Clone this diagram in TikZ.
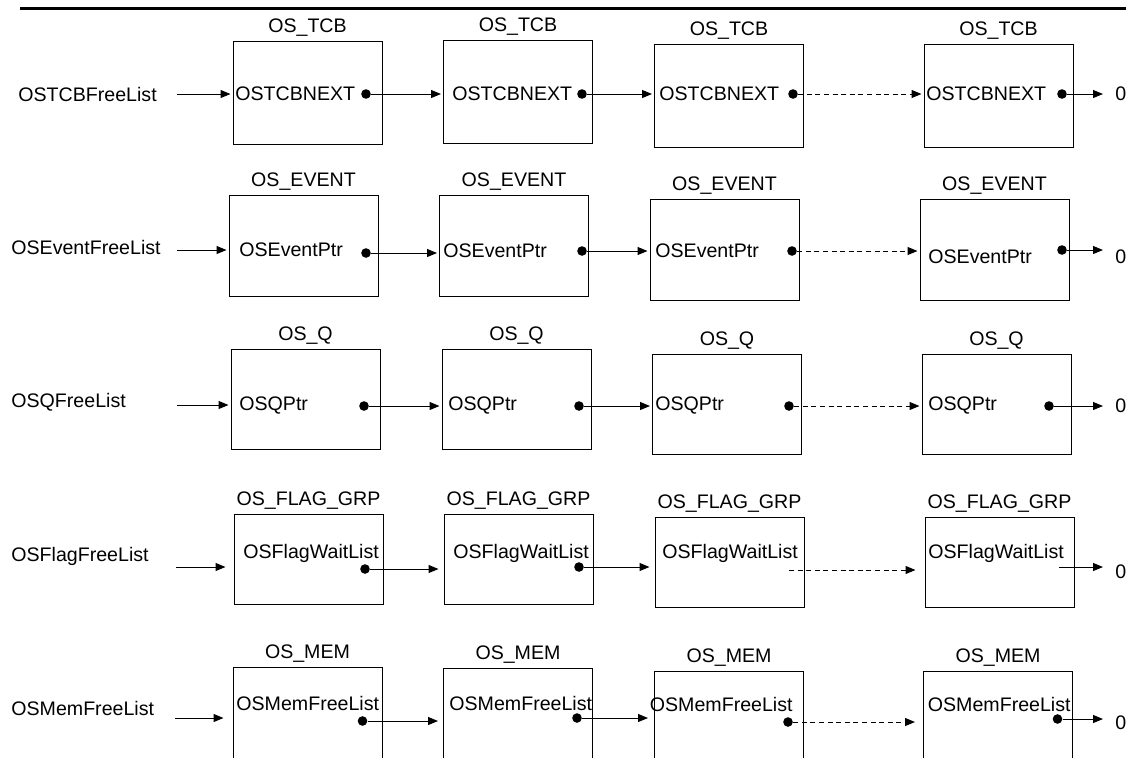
\documentclass[tikz,border=0pt]{standalone}
\usepackage{fontspec}
\setmainfont{Liberation Sans}
\usepackage{tikz}
\usetikzlibrary{positioning}
\usetikzlibrary{arrows.meta}

\begin{document}
\begin{tikzpicture}[x=0.5pt, y=-0.5pt,
        every node/.style={font=\fontsize{9.8}{11.7}\selectfont, inner sep=0pt},
        cell/.style={draw, line width=0.5pt, minimum width=74.5pt},
        dot/.style={circle, fill, minimum size=4.8pt},
        ptr/.style={-{Triangle[length=5pt,width=4pt]}, line width=0.5pt, shorten >=1pt},
        ellip/.style={ptr, dash pattern=on 2.5pt off 1.8pt}]
        \useasboundingbox (0,0) rectangle (1126,757);
        \clip (0,0) rectangle (1126,757);
        \draw[line width=1.5pt] (20,8) -- (1126,8);

        % OS_TCB
        \node[anchor=west] (tcbhead) at (18,94) {OSTCBFreeList};
        \coordinate (tcbin) at (177,94);
        \foreach \n/\x/\y/\f in {A/307.5/92.5/235, B/518/92/452, C/729/96/659, D/998.5/96/926} {
            \node[cell, minimum height=51.5pt] (tcb\n) at (\x,\y) {};
            \node[above=2pt of tcb\n] (tcbt\n) {OS\_TCB};
            \node[anchor=west] (tcbf\n) at (\f,94) {OSTCBNEXT};
        }
        \foreach \n/\x in {A/366, B/582, C/793, D/1062}
            \node[dot] (tcbd\n) at (\x,94) {};
        \node[anchor=west] (tcbnull) at (1115,94) {0};
        \draw[ptr] (tcbin) -- (tcbA.west |- tcbin);
        \draw[ptr] (tcbdA) -- (tcbB.west |- tcbdA);
        \draw[ptr] (tcbdB) -- (tcbC.west |- tcbdB);
        \draw[ellip] (tcbdC) -- (tcbD.west |- tcbdC);
        \draw[ptr, shorten >=6pt] (tcbdD) -- (tcbnull.west |- tcbdD);

        % OS_EVENT
        \node[anchor=west] (evhead) at (11,247.5) {OSEventFreeList};
        \coordinate (evin) at (177,250);
        \foreach \n/\x/\y/\f/\fy in {A/303.5/245.5/239/250, B/514/245.5/443/251, C/724.5/249.5/655/251, D/994.5/249.5/928/257} {
            \node[cell, minimum height=50.5pt] (ev\n) at (\x,\y) {};
            \node[above=2pt of ev\n] (evt\n) {OS\_EVENT};
            \node[anchor=west] (evf\n) at (\f,\fy) {OSEventPtr};
        }
        \foreach \n/\x/\y in {A/366/253, B/582/251, C/792/251, D/1062/250}
            \node[dot] (evd\n) at (\x,\y) {};
        \node[anchor=west] (evnull) at (1115,257) {0};
        \draw[ptr] (evin) -- (evA.west |- evin);
        \draw[ptr] (evdA) -- (evB.west |- evdA);
        \draw[ptr] (evdB) -- (evC.west |- evdB);
        \draw[ellip] (evdC) -- (evD.west |- evdC);
        \draw[ptr, shorten >=6pt] (evdD) -- (evnull.west |- evdD);

        % OS_Q
        \node[anchor=west] (qhead) at (11,402) {OSQFreeList};
        \coordinate (qin) at (177,405);
        \foreach \n/\x/\y/\f in {A/305.5/399/239, B/516.5/399/448, C/727/404/655, D/996.5/404/928} {
            \node[cell, minimum height=50pt] (q\n) at (\x,\y) {};
            \node[above=2pt of q\n] (qt\n) {OS\_Q};
            \node[anchor=west] (qf\n) at (\f,405) {OSQPtr};
        }
        \foreach \n/\x in {A/364, B/579, C/789, D/1049}
            \node[dot] (qd\n) at (\x,406) {};
        \node[anchor=west] (qnull) at (1115,406) {0};
        \draw[ptr] (qin) -- (qA.west |- qin);
        \draw[ptr] (qdA) -- (qB.west |- qdA);
        \draw[ptr] (qdB) -- (qC.west |- qdB);
        \draw[ellip] (qdC) -- (qD.west |- qdC);
        \draw[ptr, shorten >=6pt] (qdD) -- (qnull.west |- qdD);

        % OS_FLAG_GRP
        \node[anchor=west] (flghead) at (11,556) {OSFlagFreeList};
        \coordinate (flgin) at (176,567);
        \foreach \n/\x/\y/\f in {A/308.5/559/243, B/518.5/559/453, C/729.5/562.5/662, D/999.5/562.5/928} {
            \node[cell, minimum height=45pt] (flg\n) at (\x,\y) {};
            \node[above=2pt of flg\n] (flgt\n) {OS\_FLAG\_GRP};
            \node[anchor=west] (flgf\n) at (\f,553) {OSFlagWaitList};
        }
        \node[dot] (flgdA) at (365,569) {};
        \node[dot] (flgdB) at (579,567) {};
        \coordinate (flgout) at (789,570);
        \coordinate (flgend) at (1059,567);
        \node[anchor=west] (flgnull) at (1115,572) {0};
        \draw[ptr, shorten >=4pt] (flgin) -- (flgA.west |- flgin);
        \draw[ptr, shorten >=2.5pt] (flgdA) -- (flgB.west |- flgdA);
        \draw[ptr, shorten >=2.5pt] (flgdB) -- (flgC.west |- flgdB);
        \draw[ellip, shorten >=4.5pt] (flgout) -- (flgD.west |- flgout);
        \draw[ptr, shorten >=6pt] (flgend) -- (flgnull.west |- flgend);

        % OS_MEM
        \node[anchor=west] (memhead) at (11,708) {OSMemFreeList};
        \coordinate (memin) at (175,718);
        \foreach \n/\x/\y/\f/\fy in {A/307.5/714.5/236/703, B/518/715.5/449/703, C/729/718.5/649.5/704, D/998/718.5/927.5/704} {
            \node[cell, minimum height=47.5pt] (mem\n) at (\x,\y) {};
            \node[above=2pt of mem\n] (memt\n) {OS\_MEM};
            \node[anchor=west] (memf\n) at (\f,\fy) {OSMemFreeList};
        }
        \foreach \n/\x/\y in {A/362.5/721, B/577/718, C/788/722, D/1057.5/719}
            \node[dot] (memd\n) at (\x,\y) {};
        \node[anchor=west] (memnull) at (1115,723) {0};
        \draw[ptr, shorten >=4.5pt] (memin) -- (memA.west |- memin);
        \draw[ptr, shorten >=2.5pt] (memdA) -- (memB.west |- memdA);
        \draw[ptr, shorten >=3pt] (memdB) -- (memC.west |- memdB);
        \draw[ellip, shorten >=4pt] (memdC) -- (memD.west |- memdC);
        \draw[ptr, shorten >=6pt] (memdD) -- (memnull.west |- memdD);
\end{tikzpicture}
\end{document}
